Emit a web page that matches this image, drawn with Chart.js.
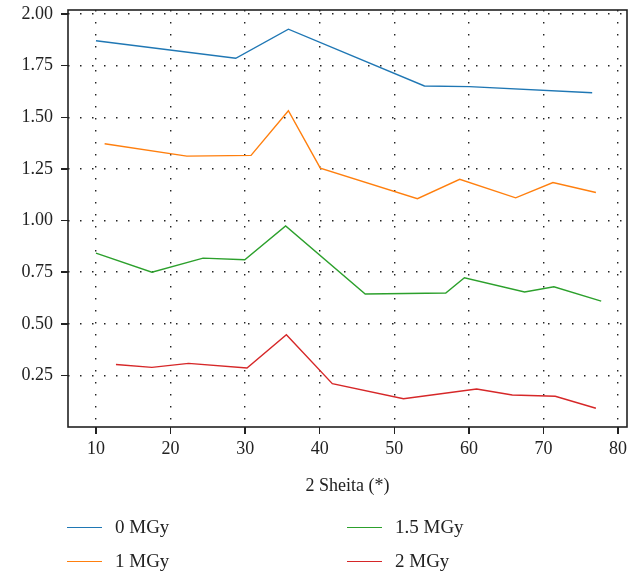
<!DOCTYPE html>
<html>
<head>
<meta charset="utf-8">
<script src="https://cdn.jsdelivr.net/npm/chart.js@4"></script>
<style>
  html, body { margin: 0; padding: 0; background: #fff; }
  #wrap { position: relative; width: 638px; height: 574px; }
  #overlay { position: absolute; left: 0; top: 0; width: 638px; height: 574px; pointer-events: none;
             font-family: "Liberation Serif", "Times New Roman", serif; font-size: 19px; color: #222; }
  .item { position: absolute; height: 20px; line-height: 20px; white-space: nowrap; }
  .item span.swatch { position: absolute; left: 0; top: 10px; width: 35px; height: 0; border-top: 1.5px solid; }
  .item span.lbl { position: absolute; left: 48px; top: 0; }
  .tick { position: absolute; background: #222; }
</style>
</head>
<body>
<div id="wrap">
  <canvas id="chart" width="638" height="574"></canvas>
  <div id="overlay"></div>
</div>
<script>
// series: [2theta, value]
var dose0 = [[10, 1.871], [28.74, 1.786], [35.8, 1.927], [54.04, 1.652], [60.07, 1.649], [76.53, 1.619]]
var dose1 = [[11.16, 1.372], [22.18, 1.312], [30.79, 1.316], [35.8, 1.532], [40.08, 1.254], [53.1, 1.106],
             [58.77, 1.200], [66.27, 1.110], [71.27, 1.184], [77.03, 1.136]]
var dose15 = [[10, 0.842], [17.5, 0.750], [24.36, 0.818], [29.95, 0.810], [35.43, 0.974], [46.1, 0.644],
              [56.9, 0.649], [59.4, 0.723], [67.47, 0.654], [71.4, 0.679], [77.74, 0.610]]
var dose2 = [[12.68, 0.303], [17.5, 0.289], [22.41, 0.308], [30.25, 0.286], [35.53, 0.447], [41.69, 0.210],
             [51.23, 0.137], [61.04, 0.184], [65.82, 0.155], [71.58, 0.149], [77.03, 0.091]]

var seriesNames = ['0 MGy', '1 MGy', '1.5 MGy', '2 MGy']
var seriesColors = ['#1f77b4', '#ff7f0e', '#2ca02c', '#d62728']

var xTicks = [10, 20, 30, 40, 50, 60, 70, 80]
var yTicks = [0.25, 0.50, 0.75, 1.00, 1.25, 1.50, 1.75, 2.00]
var xTitle = '2 Sheita (*)'

function toPoints(arr) {
  return arr.map(function (p) { return {x: p[0], y: p[1]} })
}

var allSeries = [dose0, dose1, dose15, dose2]
var datasets = allSeries.map(function (s, i) {
  return {
    label: seriesNames[i],
    data: toPoints(s),
    borderColor: seriesColors[i],
    backgroundColor: seriesColors[i],
    borderWidth: 1.4,
    pointRadius: 0,
    tension: 0,
    fill: false
  }
})

var fontSpec = { family: '"Liberation Serif", "Times New Roman", serif', size: 18 }

// frame round the plot area
var framePlugin = {
  id: 'frame',
  afterDraw: function (chart) {
    var a = chart.chartArea
    var ctx = chart.ctx
    ctx.save()
    ctx.strokeStyle = '#222'
    ctx.lineWidth = 1.6
    ctx.setLineDash([])
    ctx.strokeRect(a.left, a.top, a.right - a.left, a.bottom - a.top)
    ctx.restore()
  }
}

var gridSpec = { color: '#222', lineWidth: 1.4, drawTicks: false }

var chart = new Chart(document.getElementById('chart'), {
  type: 'line',
  data: { datasets: datasets },
  plugins: [framePlugin],
  options: {
    responsive: false,
    animation: false,
    layout: { padding: { left: 0, right: 11, top: 10, bottom: 77 } },
    plugins: { legend: { display: false }, tooltip: { enabled: false } },
    scales: {
      x: {
        type: 'linear',
        min: 6.25,
        max: 81.2,
        afterBuildTicks: function (scale) {
          scale.ticks = xTicks.map(function (v) { return {value: v} })
        },
        afterFit: function (scale) {
          scale.height = 70
          scale.paddingLeft = 0
          scale.paddingRight = 0
        },
        grid: gridSpec,
        border: { display: false, dash: [1.5, 10.5] },
        ticks: { font: fontSpec, color: '#222', padding: 11, maxRotation: 0,
                 callback: function (v) { return v } },
        title: { display: true, text: xTitle, font: fontSpec, color: '#222', padding: { top: 6, bottom: 0 } }
      },
      y: {
        type: 'linear',
        min: 0,
        max: 2.02,
        afterBuildTicks: function (scale) {
          scale.ticks = yTicks.map(function (v) { return {value: v} })
        },
        afterFit: function (scale) {
          scale.width = 68
          scale.paddingTop = 0
          scale.paddingBottom = 0
        },
        grid: gridSpec,
        border: { display: false, dash: [1.5, 10.5] },
        ticks: { font: fontSpec, color: '#222', padding: 15,
                 callback: function (v) { return Number(v).toFixed(2) } }
      }
    }
  }
})

var overlay = document.getElementById('overlay')
var area = chart.chartArea

// outward tick marks, placed from the chart's own scales
xTicks.forEach(function (v) {
  var px = chart.scales.x.getPixelForValue(v)
  var t = document.createElement('div')
  t.className = 'tick'
  t.style.left = (px - 0.75) + 'px'
  t.style.top = area.bottom + 'px'
  t.style.width = '1.5px'
  t.style.height = '7px'
  overlay.appendChild(t)
})
yTicks.forEach(function (v) {
  var py = chart.scales.y.getPixelForValue(v)
  var t = document.createElement('div')
  t.className = 'tick'
  t.style.left = (area.left - 7) + 'px'
  t.style.top = (py - 0.75) + 'px'
  t.style.width = '7px'
  t.style.height = '1.5px'
  overlay.appendChild(t)
})

// two-column legend under the x axis title
var legendCols = [67, 347]
var legendRows = [517, 551]
var legendOrder = [[0, 0], [1, 0], [0, 1], [1, 1]] // [row, col] for each dataset
chart.data.datasets.forEach(function (ds, i) {
  var item = document.createElement('div')
  item.className = 'item'
  item.style.left = legendCols[legendOrder[i][1]] + 'px'
  item.style.top = legendRows[legendOrder[i][0]] + 'px'
  item.innerHTML = '<span class="swatch" style="border-color:' + ds.borderColor + '"></span>' +
                   '<span class="lbl">' + ds.label + '</span>'
  overlay.appendChild(item)
})
</script>
</body>
</html>
